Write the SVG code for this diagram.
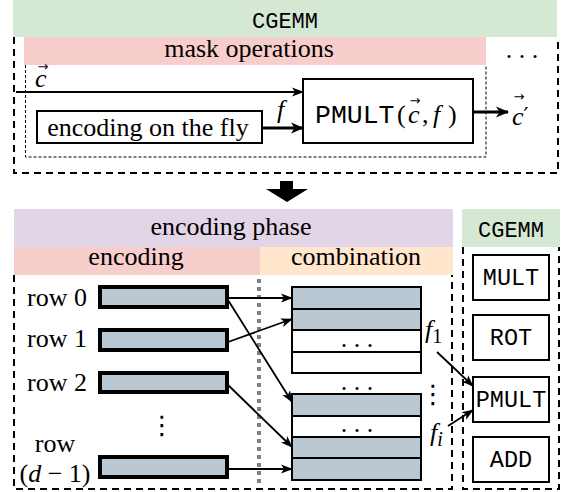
<svg xmlns="http://www.w3.org/2000/svg" width="568" height="492" viewBox="0 0 568 492">
  <defs>
    <style>
      .serif { font-family: "Liberation Serif", "DejaVu Serif", serif; font-size: 26px; fill: #000; }
      .it { font-style: italic; }
      .vec { font-family: "DejaVu Sans", "Liberation Sans", sans-serif; font-size: 13px; fill: #000; }
      .vdots { font-family: "DejaVu Sans", sans-serif; font-size: 26px; fill: #000; }
      .mono { font-family: "Liberation Mono", "DejaVu Sans Mono", monospace; fill: #000; }
      .op { font-size: 23.5px; }
      .box { fill: #fff; stroke: #000; stroke-width: 2; }
      .bar { fill: #bac8d3; stroke: #000; stroke-width: 4; }
      .cell { stroke: #000; stroke-width: 2; }
      .dashed { fill: none; stroke: #000; stroke-width: 2; stroke-dasharray: 7 5; }
      .dotted { fill: none; stroke: #000; stroke-width: 1; stroke-dasharray: 3 2; }
      .link { fill: none; stroke: #000; stroke-width: 1.8; marker-end: url(#head); }
      .thick { fill: none; stroke: #000; stroke-width: 3; marker-end: url(#headBig); }
    </style>
    <marker id="head" markerUnits="userSpaceOnUse" markerWidth="12" markerHeight="10" refX="11" refY="5" orient="auto">
      <path d="M0,0.5 L12,5 L0,9.5 L3,5 Z" fill="#000"/>
    </marker>
    <marker id="headBig" markerUnits="userSpaceOnUse" markerWidth="13" markerHeight="12" refX="12" refY="6" orient="auto">
      <path d="M0,0.5 L13,6 L0,11.5 L3.5,6 Z" fill="#000"/>
    </marker>
  </defs>

  <!-- ===== upper panel: CGEMM with mask operations ===== -->
  <g id="cgemm-top">
    <rect x="13" y="0" width="544" height="37" fill="#d5e8d4"/>
    <text class="mono" x="285" y="28" font-size="22" text-anchor="middle">CGEMM</text>
    <path class="dashed" d="M14,37 V173 H558 V37"/>
    <text class="serif" x="522" y="58" text-anchor="middle">. . .</text>
  </g>

  <g id="mask-operations">
    <rect x="24" y="37" width="462" height="28" fill="#f8cecc"/>
    <text class="serif" x="249" y="57" text-anchor="middle">mask operations</text>
    <path class="dotted" d="M25.5,65 V157 H486 V65"/>
  </g>

  <g id="encoding-fly">
    <rect class="box" x="37" y="111" width="225" height="32"/>
    <text class="serif" x="148" y="136" text-anchor="middle">encoding on the fly</text>
  </g>

  <g id="pmult-top">
    <rect class="box" x="303" y="79" width="170" height="64"/>
    <text class="mono" x="315" y="123" font-size="26.5">PMULT</text>
    <text class="serif" y="123"><tspan x="397">(</tspan><tspan class="it" x="408">c</tspan><tspan x="422">,</tspan><tspan class="it" x="433">f</tspan><tspan x="448">)</tspan></text>
    <text class="vec" x="415" y="105" text-anchor="middle">→</text>
  </g>

  <g id="top-labels">
    <text class="serif it" x="35" y="87">c</text>
    <text class="vec" x="43" y="71" text-anchor="middle">→</text>
    <text class="serif it" x="277" y="118">f</text>
    <text class="serif it" x="512" y="125">c<tspan font-style="normal" font-family="DejaVu Serif" font-size="22" dy="-2">′</tspan></text>
    <text class="vec" x="519" y="101" text-anchor="middle">→</text>
  </g>

  <g id="top-connectors">
    <line class="link" x1="16" y1="92" x2="303" y2="92"/>
    <line class="thick" x1="262" y1="128" x2="303" y2="128"/>
    <line class="thick" x1="473" y1="112" x2="508" y2="112"/>
  </g>

  <!-- transition arrow -->
  <g id="down-arrow">
    <polygon points="280,181 293,181 293,189 308,189 287,202 266,189 280,189" fill="#000"/>
  </g>

  <!-- ===== lower panel: encoding phase ===== -->
  <g id="encoding-phase">
    <rect x="14" y="209" width="439" height="38" fill="#e1d5e7"/>
    <text class="serif" x="231" y="235" text-anchor="middle">encoding phase</text>
    <rect x="14" y="247" width="246" height="28" fill="#f8cecc"/>
    <text class="serif" x="136" y="265" text-anchor="middle">encoding</text>
    <rect x="260" y="247" width="193" height="28" fill="#ffe6cc"/>
    <text class="serif" x="356" y="265" text-anchor="middle">combination</text>
    <path class="dashed" d="M14,275 V489 H452 V275"/>
    <line x1="259" y1="279" x2="259" y2="484" stroke="#808080" stroke-width="4" stroke-dasharray="4 4"/>
  </g>

  <g id="row-0">
    <text class="serif" x="27" y="306">row 0</text>
    <rect class="bar" x="100" y="287" width="127" height="20"/>
  </g>
  <g id="row-1">
    <text class="serif" x="27" y="347">row 1</text>
    <rect class="bar" x="100" y="330" width="127" height="20"/>
  </g>
  <g id="row-2">
    <text class="serif" x="27" y="391">row 2</text>
    <rect class="bar" x="100" y="373" width="127" height="19"/>
  </g>
  <g id="row-dots">
    <text class="vdots" x="162" y="434" text-anchor="middle">⋮</text>
  </g>
  <g id="row-last">
    <text class="serif" x="55" y="452" text-anchor="middle">row</text>
    <text class="serif" x="55" y="482" text-anchor="middle">(<tspan class="it">d</tspan> − 1)</text>
    <rect class="bar" x="100" y="457" width="127" height="20"/>
  </g>

  <g id="stack-1">
    <rect class="cell" x="292" y="287" width="129" height="22" fill="#bac8d3"/>
    <rect class="cell" x="292" y="309" width="129" height="21" fill="#bac8d3"/>
    <rect class="cell" x="292" y="330" width="129" height="22" fill="#fff"/>
    <rect class="cell" x="292" y="352" width="129" height="21" fill="#fff"/>
    <text class="serif" x="357" y="347" text-anchor="middle">. . .</text>
  </g>
  <text class="serif" x="357" y="390" text-anchor="middle">. . .</text>
  <g id="stack-2">
    <rect class="cell" x="292" y="394" width="129" height="22" fill="#bac8d3"/>
    <rect class="cell" x="292" y="416" width="129" height="21" fill="#fff"/>
    <rect class="cell" x="292" y="437" width="129" height="21" fill="#bac8d3"/>
    <rect class="cell" x="292" y="458" width="129" height="22" fill="#bac8d3"/>
    <text class="serif" x="357" y="432" text-anchor="middle">. . .</text>
  </g>

  <g id="factor-labels">
    <text class="serif it" x="425" y="338">f<tspan font-style="normal" font-size="20" dy="5">1</tspan></text>
    <text class="vdots" x="433" y="403" text-anchor="middle">⋮</text>
    <text class="serif it" x="430" y="441">f<tspan font-size="20" dy="5">i</tspan></text>
  </g>

  <!-- ===== right panel: CGEMM operations ===== -->
  <g id="cgemm-ops">
    <rect x="462" y="209" width="98" height="38" fill="#d5e8d4"/>
    <text class="mono" x="511" y="237" font-size="22" text-anchor="middle">CGEMM</text>
    <path class="dashed" d="M463,247 V489 H559 V247"/>
  </g>
  <g id="op-mult">
    <rect class="box" x="473" y="255" width="76" height="45"/>
    <text class="mono op" x="511" y="285" text-anchor="middle">MULT</text>
  </g>
  <g id="op-rot">
    <rect class="box" x="473" y="315" width="76" height="45"/>
    <text class="mono op" x="511" y="345" text-anchor="middle">ROT</text>
  </g>
  <g id="op-pmult">
    <rect class="box" x="473" y="377" width="76" height="45"/>
    <text class="mono op" x="511" y="407" text-anchor="middle">PMULT</text>
  </g>
  <g id="op-add">
    <rect class="box" x="473" y="437" width="76" height="45"/>
    <text class="mono op" x="511" y="467" text-anchor="middle">ADD</text>
  </g>

  <g id="connectors">
    <line class="link" x1="228" y1="298" x2="292" y2="298"/>
    <line class="link" x1="228" y1="300" x2="292" y2="402"/>
    <line class="link" x1="228" y1="342" x2="292" y2="319"/>
    <line class="link" x1="228" y1="385" x2="292" y2="447"/>
    <line class="link" x1="228" y1="469" x2="292" y2="469"/>
    <line class="link" x1="437" y1="352" x2="473" y2="386"/>
    <line class="link" x1="448" y1="426" x2="473" y2="410"/>
  </g>
</svg>
